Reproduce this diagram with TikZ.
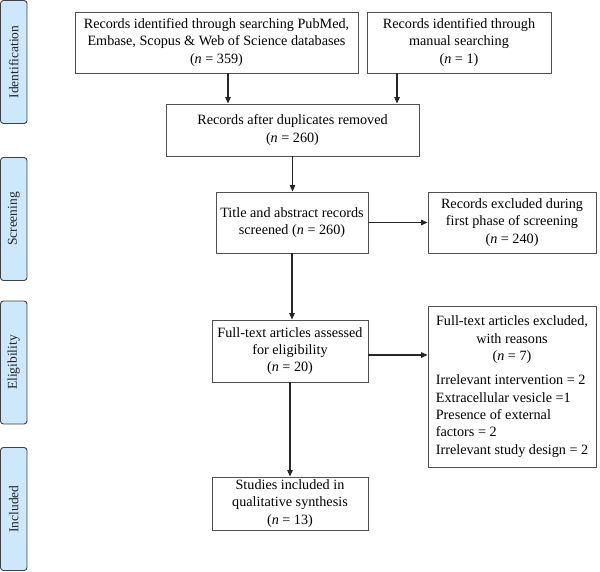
\documentclass[tikz,border=0pt]{standalone}
\usepackage{fontspec}
\setmainfont{Liberation Serif}
\usetikzlibrary{arrows.meta}
\definecolor{sidefill}{RGB}{204,232,250}
\definecolor{edge}{RGB}{80,80,80}
\newcommand{\nn}{\textit{n}}
\begin{document}
\begin{tikzpicture}[x=1pt,y=-1pt,
  box/.style={draw=edge,line width=0.9pt,align=center,inner sep=2pt,
    font=\fontsize{14.2}{17.3}\selectfont},
  side/.style={draw=edge!80!black,fill=sidefill,rounded corners=3pt,line width=0.9pt,
    minimum width=26.5pt,minimum height=123pt,inner sep=0pt},
  sidetext/.style={rotate=90,font=\fontsize{13.5}{15}\selectfont,text=black!85},
  arr/.style={-{Triangle[length=6.5pt,width=5.5pt]},line width=1.2pt,draw=black!85}]
\useasboundingbox (0,0) rectangle (600,571);
% side labels
\node[side] (sid) at (13.75,62) {};
\node[sidetext] (sidt) at (sid) {Identification};
\node[side] (sscr) at (13.75,219) {};
\node[sidetext] (sscrt) at (sscr) {Screening};
\node[side] (selig) at (13.75,362.5) {};
\node[sidetext] (seligt) at (selig) {Eligibility};
\node[side] (sinc) at (13.75,509) {};
\node[sidetext] (sinct) at (sinc) {Included};
% boxes
\node[box,minimum width=283pt,minimum height=61pt] (b1) at (216.5,42.5)
  {Records identified through searching PubMed,\\Embase, Scopus \& Web of Science databases\\(\nn{} = 359)};
\node[box,minimum width=184pt,minimum height=61pt] (b2) at (459,42.5)
  {Records identified through\\manual searching\\(\nn{} = 1)};
\node[box,minimum width=253pt,minimum height=52pt] (b3) at (292.5,130)
  {Records after duplicates removed\\(\nn{} = 260)};
\node[box,minimum width=152pt,minimum height=61pt] (b4) at (292,222.5)
  {Title and abstract records\\screened (\nn{} = 260)};
\node[box,minimum width=168pt,minimum height=61pt] (b5) at (512,222.5)
  {Records excluded during\\first phase of screening\\(\nn{} = 240)};
\node[box,minimum width=156pt,minimum height=62pt] (b6) at (290,351)
  {Full-text articles assessed\\for eligibility\\(\nn{} = 20)};
\node[box,minimum width=168pt,minimum height=161pt] (b7) at (512,386.5)
  {\begin{tabular}{@{}l@{}}
   \multicolumn{1}{@{}c@{}}{Full-text articles excluded,}\\
   \multicolumn{1}{@{}c@{}}{with reasons}\\
   \multicolumn{1}{@{}c@{}}{(\nn{} = 7)}\\[7pt]
   Irrelevant intervention = 2\\
   Extracellular vesicle =1\\
   Presence of external\\
   factors = 2\\
   Irrelevant study design = 2
   \end{tabular}};
\node[box,minimum width=156pt,minimum height=53pt] (b8) at (290,503.5)
  {Studies included in\\qualitative synthesis\\(\nn{} = 13)};
% connectors
\draw[arr] ([xshift=11.5pt]b1.south) -- ([xshift=11.5pt]b1.south |- b3.north);
\draw[arr] ([xshift=-62pt]b2.south) -- ([xshift=-62pt]b2.south |- b3.north);
\draw[arr] (b3.south) -- (b3.south |- b4.north);
\draw[arr] (b4.east) -- (b4.east -| b5.west);
\draw[arr] (b4.south) -- (b4.south |- b6.north);
\draw[arr] ([yshift=-4pt]b6.east) -- ([yshift=-4pt]b6.east -| b7.west);
\draw[arr] (b6.south) -- (b6.south |- b8.north);
\end{tikzpicture}
\end{document}
